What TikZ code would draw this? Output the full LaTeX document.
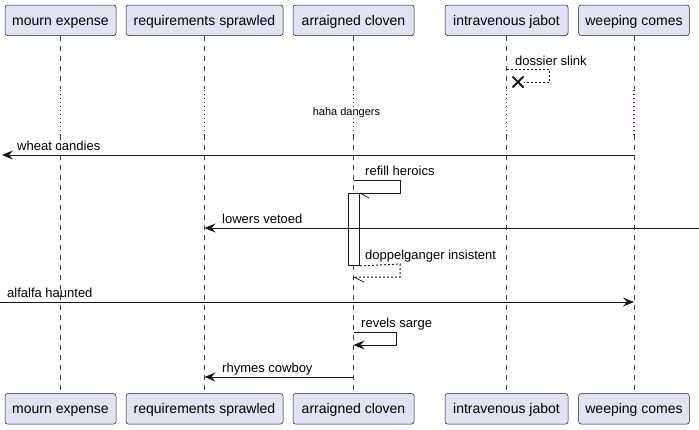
\documentclass[tikz,border=0pt]{standalone}
\usepackage{fontspec}
\setmainfont{Liberation Sans}
\usetikzlibrary{arrows.meta,calc}
\definecolor{pbox}{HTML}{E2E2F0}
\definecolor{ink}{HTML}{181818}
\definecolor{delaycol}{HTML}{A80036}
\begin{document}
\begin{tikzpicture}[x=1pt,y=-1pt,
 part/.style={draw=ink, line width=0.5pt, fill=pbox, rounded corners=2.5pt, inner sep=0pt,
   minimum height=30.5pt, text height=13pt, text depth=3pt, font=\fontsize{14}{16}\selectfont},
 life/.style={draw=ink!80, line width=0.5pt, dash pattern=on 5pt off 5pt},
 dlydot/.style={fill=delaycol},
 msg/.style={draw=ink, line width=1pt, -{Stealth[length=11pt,width=9pt,inset=4pt]}},
 ret/.style={draw=ink, line width=1pt, dash pattern=on 2pt off 2pt},
 plain/.style={draw=ink, line width=1pt},
 slant/.style={draw=ink, line width=0.75pt},
 lbl/.style={anchor=base west, inner sep=0pt, font=\fontsize{13}{15}\selectfont},
 note/.style={anchor=base, inner sep=0pt, font=\fontsize{11}{13}\selectfont},
 actbox/.style={draw=ink, line width=1pt, fill=white},
]
\useasboundingbox (0,0) rectangle (699,429);
\fill[white] (0,0) rectangle (699,429);

% participants
\node[part, minimum width=111pt] (me) at (60.5,20.25) {mourn expense};
\node[part, minimum width=157pt] (rs) at (204.5,20.25) {requirements sprawled};
\node[part, minimum width=121pt] (ac) at (353.5,20.25) {arraigned cloven};
\node[part, minimum width=123pt] (ij) at (506.5,20.25) {intravenous jabot};
\node[part, minimum width=110.6pt] (wc) at (634,20.25) {weeping comes};

\node[part, minimum width=111pt] (me2) at (60.5,408.8) {mourn expense};
\node[part, minimum width=157pt] (rs2) at (204.5,408.8) {requirements sprawled};
\node[part, minimum width=121pt] (ac2) at (353.5,408.8) {arraigned cloven};
\node[part, minimum width=123pt] (ij2) at (506.5,408.8) {intravenous jabot};
\node[part, minimum width=110.6pt] (wc2) at (634,408.8) {weeping comes};

% lifelines with delay
\foreach \p in {me,rs,ac,ij,wc}{
  \draw[life] (\p.south) -- (\p.south |- 0,89);
  \foreach \yy in {90,94,...,134}{
    \fill[dlydot] ($(\p.south |- 0,\yy)+(-0.7,0)$) rectangle ++(1.4,1.4);
  }
  \draw[life] (\p.south |- 0,135) -- (\p2.north);
}
\node[note, fill=white, inner xsep=1pt] (delay) at (346.5,115) {haha dangers};

% activation
\node[actbox, minimum width=11pt, minimum height=72pt, inner sep=0pt, anchor=north west] (act) at (348,193) {};

% coordinates
\coordinate (ds1) at (ij.south |- 0,69);
\coordinate (ds2) at (549,69);
\coordinate (ds3) at (549,82);
\coordinate (ds4) at (524,82);
\coordinate (dx) at (518,82);
\coordinate (leftA) at (2,155);
\coordinate (rh1) at (ac.south |- 0,180);
\coordinate (rh2) at (400,180);
\coordinate (rh3) at (400,193);
\coordinate (rh4) at (act.north east);
\coordinate (rh5) at (369,198);
\coordinate (rightB) at (699,228);
\coordinate (dp1) at (act.south east);
\coordinate (dp2) at (400,264);
\coordinate (dp3) at (400,277);
\coordinate (dp4) at (ac.south |- 0,277);
\coordinate (dp5) at (364,282);
\coordinate (leftC) at (0,302);
\coordinate (rv1) at (ac.south |- 0,332);
\coordinate (rv2) at (396,332);
\coordinate (rv3) at (396,345);
\coordinate (rv4) at (ac.south |- 0,345);

% dossier slink
\draw[ret] (ds1) -- (ds2) -- (ds3) -- (ds4);
\draw[ink, line width=2pt] ($(dx)+(-5.5,-5.5)$) -- ($(dx)+(5.5,5.5)$) ($(dx)+(-5.5,5.5)$) -- ($(dx)+(5.5,-5.5)$);
\node[lbl] (l1) at (515,65) {dossier slink};

% wheat candies
\draw[msg] (wc.south |- 0,155) -- (leftA);
\node[lbl] (l2) at (17,150) {wheat candies};

% refill heroics
\draw[plain] (rh1) -- (rh2) -- (rh3) -- (rh4);
\draw[slant] (rh4) -- (rh5);
\node[lbl] (l3) at (365,175.5) {refill heroics};

% lowers vetoed
\draw[msg] (rightB) -- (rs.south |- 0,228);
\node[lbl] (l4) at (222,223) {lowers vetoed};

% doppelganger insistent
\draw[ret] (dp1) -- (dp2) -- (dp3) -- (dp4);
\draw[slant] (dp4) -- (dp5);
\node[lbl] (l5) at (365,259) {doppelganger insistent};

% alfalfa haunted
\draw[msg] (leftC) -- (wc.south |- 0,302);
\node[lbl] (l6) at (7,297) {alfalfa haunted};

% revels sarge
\draw[msg] (rv1) -- (rv2) -- (rv3) -- (rv4);
\node[lbl] (l7) at (361,327) {revels sarge};

% rhymes cowboy
\draw[msg] (ac.south |- 0,377) -- (rs.south |- 0,377);
\node[lbl] (l8) at (222,372) {rhymes cowboy};
\end{tikzpicture}
\end{document}
